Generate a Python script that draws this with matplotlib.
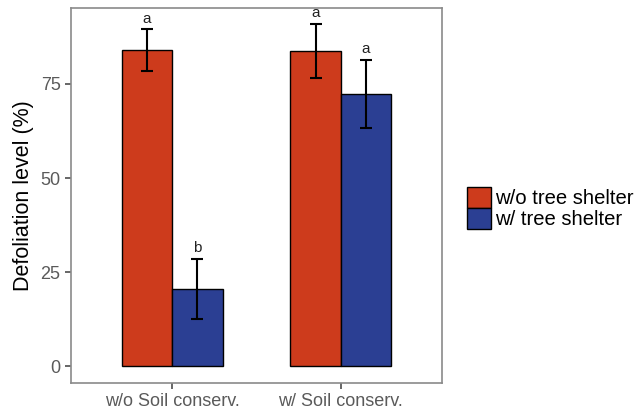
import numpy as np
import matplotlib.pyplot as plt
from matplotlib.patches import Patch

plt.rcParams['font.family'] = ['Liberation Sans', 'DejaVu Sans']

# Данные
groups = ['w/o Soil conserv.', 'w/ Soil conserv.']
series = ['w/o tree shelter', 'w/ tree shelter']
means_no_shelter = [84.0, 83.8]
means_shelter = [20.5, 72.3]
err_no_shelter = [5.5, 7.2]
err_shelter = [8.0, 9.1]
letters_no_shelter = ['a', 'a']
letters_shelter = ['b', 'a']

colors = ['#CD3B1C', '#2B3F93']

fig = plt.figure(figsize=(6.38, 4.12), dpi=100)
ax = fig.add_axes([0.1113, 0.0704, 0.5815, 0.9102])

x = np.arange(1, len(groups) + 1)
w = 0.3

for i, (m, e, lab) in enumerate([(means_no_shelter, err_no_shelter, letters_no_shelter),
                                  (means_shelter, err_shelter, letters_shelter)]):
    xs = x + (i - 0.5) * w
    ax.bar(xs, m, width=w, color=colors[i], edgecolor='black', linewidth=1.0, zorder=2)
    ax.errorbar(xs, m, yerr=e, fmt='none', ecolor='black', elinewidth=1.5,
                capsize=4, capthick=1.5, zorder=3)
    for xi, mi, ei, l in zip(xs, m, e, lab):
        ax.text(xi, mi + ei + 1.0, l, ha='center', va='bottom', fontsize=11, color='#222222')

ax.set_xlim(0.4, 2.6)
ax.set_ylim(-4.5, 95.2)
ax.set_yticks([0, 25, 50, 75])
ax.set_xticks(x)
ax.set_xticklabels(groups)
ax.tick_params(colors='#4D4D4D', labelcolor='#5A5A5A', labelsize=13, length=4, width=1.2)
for s in ax.spines.values():
    s.set_color('#8A8A8A')
    s.set_linewidth(1.2)
ax.set_ylabel('Defoliation level (%)', fontsize=15.5, color='black', labelpad=5)

handles = [Patch(facecolor=c, edgecolor='black', linewidth=1.0) for c in colors]
fig.legend(handles, series, loc='center left', bbox_to_anchor=(0.72, 0.495),
           frameon=False, fontsize=14.6, handlelength=1.15, handleheight=1.2,
           handletextpad=0.2, labelspacing=0.0, borderaxespad=0)

plt.savefig('out.png', dpi=100)
